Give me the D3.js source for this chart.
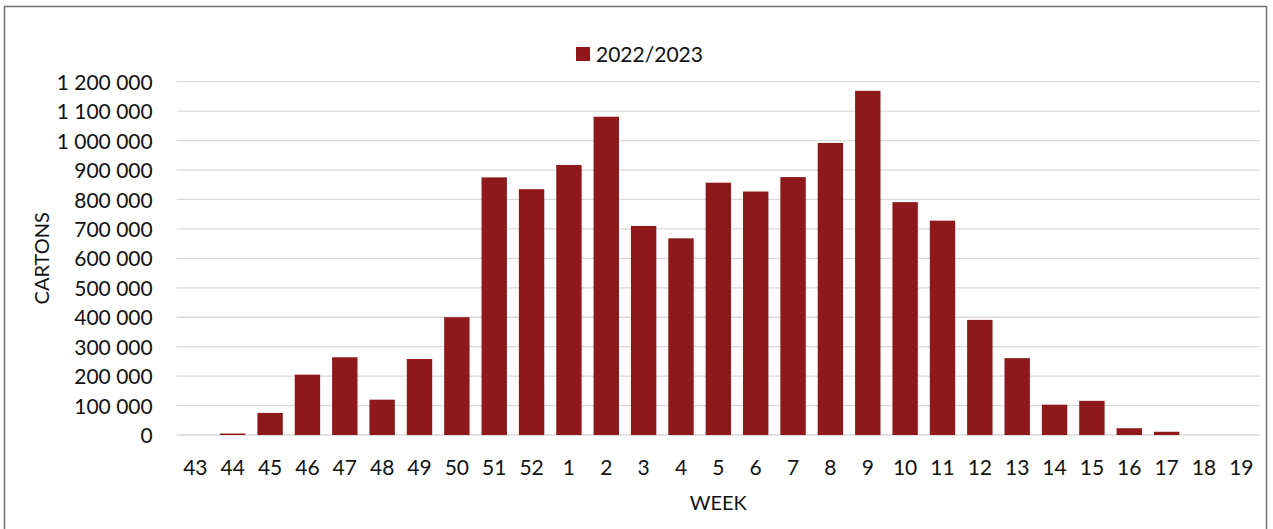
<!DOCTYPE html>
<html>
<head>
<meta charset="utf-8">
<script src="https://cdn.jsdelivr.net/npm/d3@7"></script>
<style>
  html, body { margin: 0; padding: 0; background: #fff; }
  svg { display: block; }
  text { font-family: Lato, "Open Sans", sans-serif; fill: #111; }
</style>
</head>
<body>
<svg id="chart" width="1273" height="529"></svg>
<script>
const weeks = ["43","44","45","46","47","48","49","50","51","52","1","2","3","4","5","6","7","8","9","10","11","12","13","14","15","16","17","18","19"];
const cartons = [0, 5000, 75000, 205000, 264000, 120000, 258000, 400000, 875000, 835000, 917000, 1081000, 710000, 668000, 857000, 827000, 876000, 992000, 1169000, 791000, 728000, 391000, 261000, 103000, 116000, 23000, 11000, 0, 0];
const yTicks = [0, 100000, 200000, 300000, 400000, 500000, 600000, 700000, 800000, 900000, 1000000, 1100000, 1200000];
const seriesName = "2022/2023";
const xTitle = "WEEK";
const yTitle = "CARTONS";

const svg = d3.select("#chart");
const mLeft = 176.7, mRight = 1260, mTop = 81.7, mBottom = 435;
const color = "#8f181b";

// outer border
svg.append("rect")
  .attr("x", 4.5).attr("y", 6.5)
  .attr("width", 1262).attr("height", 540)
  .attr("fill", "none").attr("stroke", "#707070").attr("stroke-width", 1.5);

const x = d3.scaleBand().domain(weeks).range([mLeft, mRight]).paddingInner(0.32).paddingOuter(0.16);
const y = d3.scaleLinear().domain([0, 1200000]).range([mBottom, mTop]);

const fmt = v => d3.format(",")(v).replace(/,/g, " ");

// gridlines
svg.append("g").selectAll("line").data(yTicks).join("line")
  .attr("x1", mLeft).attr("x2", mRight)
  .attr("y1", d => y(d)).attr("y2", d => y(d))
  .attr("stroke", "#d9d9d9").attr("stroke-width", 1.3);

// y axis labels
const yAxis = d3.axisLeft(y).tickValues(yTicks).tickFormat(fmt).tickSize(0).tickPadding(0);
const gy = svg.append("g").attr("transform", `translate(${mLeft - 24},0)`).call(yAxis);
gy.select(".domain").remove();
gy.selectAll("text").style("font-size", "21px").style("font-family", "Lato, 'Open Sans', sans-serif").attr("fill", "#111").attr("dy", "0.36em");

// bars
svg.append("g").selectAll("rect").data(weeks).join("rect")
  .attr("x", d => x(d))
  .attr("width", x.bandwidth())
  .attr("y", (d, i) => y(cartons[i]))
  .attr("height", (d, i) => mBottom - y(cartons[i]))
  .attr("fill", color);

// x axis labels
const xAxis = d3.axisBottom(x).tickSize(0).tickPadding(0);
const gx = svg.append("g").attr("transform", `translate(0,${mBottom})`).call(xAxis);
gx.select(".domain").remove();
gx.selectAll("text").style("font-size", "21px").style("font-family", "Lato, 'Open Sans', sans-serif").attr("fill", "#111").attr("dy", "0").attr("y", 40);

// axis titles
svg.append("text")
  .attr("x", (mLeft + mRight) / 2).attr("y", 510)
  .attr("text-anchor", "middle").style("font-size", "20px")
  .text(xTitle);

svg.append("text")
  .attr("transform", `translate(49,${(mTop + mBottom) / 2}) rotate(-90)`)
  .attr("text-anchor", "middle").style("font-size", "20px")
  .text(yTitle);

// legend
const lg = svg.append("g").attr("transform", "translate(576,47)");
lg.append("rect").attr("width", 14).attr("height", 14).attr("fill", color);
lg.append("text").attr("x", 20).attr("y", 7).attr("dy", "0.36em")
  .style("font-size", "21px").text(seriesName);
</script>
</body>
</html>
